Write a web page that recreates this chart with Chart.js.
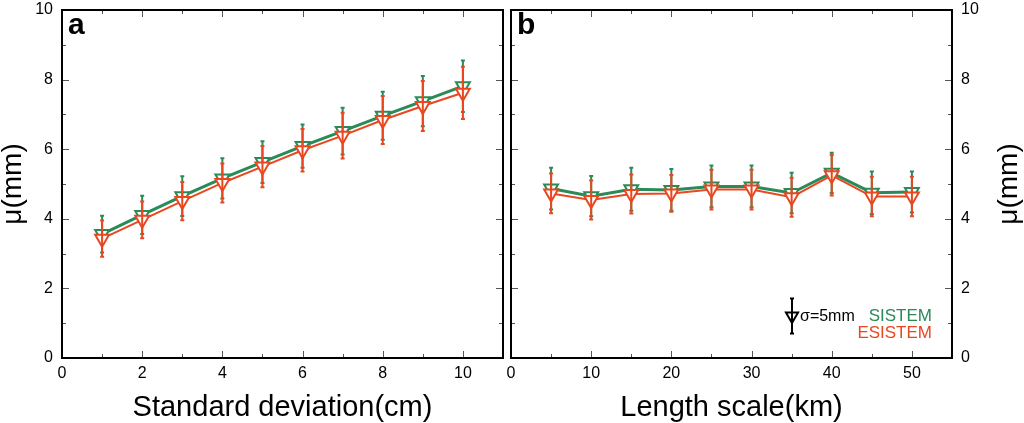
<!DOCTYPE html>
<html>
<head>
<meta charset="utf-8">
<script src="https://cdn.jsdelivr.net/npm/chart.js@4.4.1/dist/chart.umd.min.js"></script>
<style>
  html, body { margin: 0; padding: 0; background: #fff; }
  #wrap { position: relative; width: 1024px; height: 423px; }
  #wrap canvas { position: absolute; left: 0; top: 0; }
</style>
</head>
<body>
<div id="wrap">
  <canvas id="chart-a" width="1024" height="423"></canvas>
  <canvas id="chart-b" width="1024" height="423"></canvas>
</div>
<script>
// panel a: standard deviation (cm)
const stdDev = [1, 2, 3, 4, 5, 6, 7, 8, 9, 10];
const sistemA = [3.56, 4.11, 4.65, 5.16, 5.63, 6.09, 6.52, 6.96, 7.38, 7.81];
const sistemAErr = [0.53, 0.55, 0.57, 0.58, 0.60, 0.62, 0.67, 0.69, 0.72, 0.74];
const esistemA = [3.43, 3.97, 4.51, 5.03, 5.50, 5.97, 6.39, 6.84, 7.24, 7.62];
const esistemAErr = [0.52, 0.53, 0.55, 0.56, 0.59, 0.61, 0.66, 0.69, 0.72, 0.75];

// panel b: length scale (km)
const lengthScale = [5, 10, 15, 20, 25, 30, 35, 40, 45, 50];
const sistemB = [4.87, 4.65, 4.85, 4.83, 4.93, 4.93, 4.74, 5.32, 4.75, 4.77];
const sistemBErr = [0.60, 0.58, 0.62, 0.60, 0.60, 0.60, 0.58, 0.58, 0.61, 0.59];
const esistemB = [4.73, 4.54, 4.71, 4.73, 4.84, 4.84, 4.62, 5.25, 4.64, 4.64];
const esistemBErr = [0.57, 0.56, 0.56, 0.53, 0.57, 0.57, 0.56, 0.58, 0.57, 0.57];

const GREEN = '#2a8a58';
const ORANGE = '#e8471f';
const FONT = '"Liberation Sans", Arial, Helvetica, sans-serif';

Chart.defaults.font.family = FONT;
Chart.defaults.color = '#000';

function toPoints(xs, ys) {
	return xs.map((x, i) => ({ x: x, y: ys[i] }));
}

function series(label, xs, ys, errs, color, width, order) {
	return {
		label: label,
		data: toPoints(xs, ys),
		errors: errs,
		borderColor: color,
		borderWidth: width,
		pointStyle: 'triangle',
		rotation: 180,
		pointRadius: 8,
		pointHoverRadius: 8,
		pointBorderWidth: 2,
		pointBorderColor: color,
		pointBackgroundColor: '#fff',
		tension: 0,
		order: order
	};
}

// error bars drawn right after each dataset so the orange sits over the green
const errorBars = {
	id: 'errorBars',
	afterDatasetDraw(chart, args) {
		const ds = chart.data.datasets[args.index];
		if (!ds.errors) return;
		const xs = chart.scales.x, ys = chart.scales.y;
		const ctx = chart.ctx;
		ctx.save();
		ctx.strokeStyle = ds.borderColor;
		ctx.lineWidth = 2;
		ds.data.forEach((p, i) => {
			const px = xs.getPixelForValue(p.x);
			const top = ys.getPixelForValue(p.y + ds.errors[i]);
			const bot = ys.getPixelForValue(p.y - ds.errors[i]);
			ctx.beginPath();
			ctx.moveTo(px, top); ctx.lineTo(px, bot);
			ctx.moveTo(px - 2, top); ctx.lineTo(px + 2, top);
			ctx.moveTo(px - 2, bot); ctx.lineTo(px + 2, bot);
			ctx.stroke();
		});
		ctx.restore();
	}
};

// frame, inward ticks on all four sides, panel letter
const frame = {
	id: 'frame',
	afterDraw(chart, args, opts) {
		const a = chart.chartArea;
		const ctx = chart.ctx;
		ctx.save();
		ctx.strokeStyle = '#555';
		ctx.lineWidth = 1;
		chart.scales.x.ticks.forEach(t => {
			const px = Math.round(chart.scales.x.getPixelForValue(t.value)) + 0.5;
			const len = t.label !== '' ? 7 : 4;
			ctx.beginPath();
			ctx.moveTo(px, a.bottom); ctx.lineTo(px, a.bottom - len);
			ctx.moveTo(px, a.top); ctx.lineTo(px, a.top + len);
			ctx.stroke();
		});
		chart.scales.y.ticks.forEach(t => {
			const py = Math.round(chart.scales.y.getPixelForValue(t.value)) + 0.5;
			const len = t.value % 2 === 0 ? 7 : 4;
			ctx.beginPath();
			ctx.moveTo(a.left, py); ctx.lineTo(a.left + len, py);
			ctx.moveTo(a.right, py); ctx.lineTo(a.right - len, py);
			ctx.stroke();
		});
		ctx.strokeStyle = '#000';
		ctx.lineWidth = 2;
		ctx.strokeRect(a.left, a.top, a.right - a.left, a.bottom - a.top);
		ctx.fillStyle = '#000';
		ctx.font = 'bold 30px ' + FONT;
		ctx.textBaseline = 'alphabetic';
		ctx.textAlign = 'left';
		ctx.fillText(opts.letter, a.left + 6, a.top + 24);
		ctx.restore();
	}
};

// legend and right-hand axis title of panel b
const legendB = {
	id: 'legendB',
	afterDraw(chart) {
		const a = chart.chartArea;
		const ys = chart.scales.y;
		const ctx = chart.ctx;
		const cx = a.right - 160, cy = a.bottom - 42;
		const half = ys.getPixelForValue(0) - ys.getPixelForValue(0.5);
		ctx.save();
		ctx.strokeStyle = '#000';
		ctx.lineWidth = 2;
		ctx.beginPath();
		ctx.moveTo(cx, cy - half); ctx.lineTo(cx, cy + half);
		ctx.moveTo(cx - 2, cy - half); ctx.lineTo(cx + 2, cy - half);
		ctx.moveTo(cx - 2, cy + half); ctx.lineTo(cx + 2, cy + half);
		ctx.stroke();
		const r = 7;
		ctx.beginPath();
		ctx.moveTo(cx, cy + r);
		ctx.lineTo(cx - r * 0.866, cy - r / 2);
		ctx.lineTo(cx + r * 0.866, cy - r / 2);
		ctx.closePath();
		ctx.stroke();
		ctx.fillStyle = '#000';
		ctx.font = '16px ' + FONT;
		ctx.textBaseline = 'middle';
		ctx.textAlign = 'left';
		ctx.fillText('σ=5mm', cx + 8, cy + 1);
		ctx.font = '17px ' + FONT;
		ctx.textAlign = 'right';
		ctx.fillStyle = GREEN;
		ctx.fillText('SISTEM', a.right - 20, cy);
		ctx.fillStyle = ORANGE;
		ctx.fillText('ESISTEM', a.right - 20, cy + 17);
		// right axis title reads upwards like the left one
		ctx.fillStyle = '#000';
		ctx.font = '28px ' + FONT;
		ctx.textAlign = 'center';
		ctx.translate(1009, (a.top + a.bottom) / 2);
		ctx.rotate(-Math.PI / 2);
		ctx.fillText('μ(mm)', 0, 0);
		ctx.restore();
	}
};

function yAxis(position, width, showTitle) {
	return {
		type: 'linear',
		position: position,
		min: 0,
		max: 10,
		grid: { display: false, drawTicks: false, tickLength: 0 },
		border: { display: false },
		ticks: {
			stepSize: 1,
			autoSkip: false,
			padding: 9,
			font: { size: 16 },
			callback: v => (v % 2 === 0 ? v : '')
		},
		title: {
			display: showTitle,
			text: 'μ(mm)',
			font: { size: 28, lineHeight: 0.95 },
			padding: 0
		},
		afterFit: s => {
			s.width = width;
			s.paddingTop = 0;
			s.paddingBottom = 0;
		}
	};
}

function xAxis(max, step, labelEvery, title) {
	return {
		type: 'linear',
		min: 0,
		max: max,
		grid: { display: false, drawTicks: false, tickLength: 0 },
		border: { display: false },
		ticks: {
			stepSize: step,
			autoSkip: false,
			maxRotation: 0,
			padding: 6,
			font: { size: 16 },
			callback: v => (v % labelEvery === 0 && v < max ? v : '')
		},
		title: {
			display: true,
			text: title,
			font: { size: 29, lineHeight: 1.05 },
			padding: 0
		},
		afterFit: s => {
			s.height = 65;
			s.paddingLeft = 0;
			s.paddingRight = 0;
		}
	};
}

new Chart(document.getElementById('chart-a'), {
	type: 'line',
	data: {
		datasets: [
			series('SISTEM', stdDev, sistemA, sistemAErr, GREEN, 3, 2),
			series('ESISTEM', stdDev, esistemA, esistemAErr, ORANGE, 2, 1)
		]
	},
	options: {
		responsive: false,
		animation: false,
		layout: { padding: { left: 0, top: 6, right: 521, bottom: 0 } },
		plugins: {
			legend: { display: false },
			tooltip: { enabled: false },
			frame: { letter: 'a' }
		},
		scales: {
			x: xAxis(11, 1, 2, 'Standard deviation(cm)'),
			y: yAxis('left', 62, true)
		}
	},
	plugins: [errorBars, frame]
});

new Chart(document.getElementById('chart-b'), {
	type: 'line',
	data: {
		datasets: [
			series('SISTEM', lengthScale, sistemB, sistemBErr, GREEN, 3, 2),
			series('ESISTEM', lengthScale, esistemB, esistemBErr, ORANGE, 2, 1)
		]
	},
	options: {
		responsive: false,
		animation: false,
		layout: { padding: { left: 511, top: 6, right: 0, bottom: 0 } },
		plugins: {
			legend: { display: false },
			tooltip: { enabled: false },
			frame: { letter: 'b' }
		},
		scales: {
			x: xAxis(55, 5, 10, 'Length scale(km)'),
			y: yAxis('right', 72, false)
		}
	},
	plugins: [errorBars, frame, legendB]
});
</script>
</body>
</html>
